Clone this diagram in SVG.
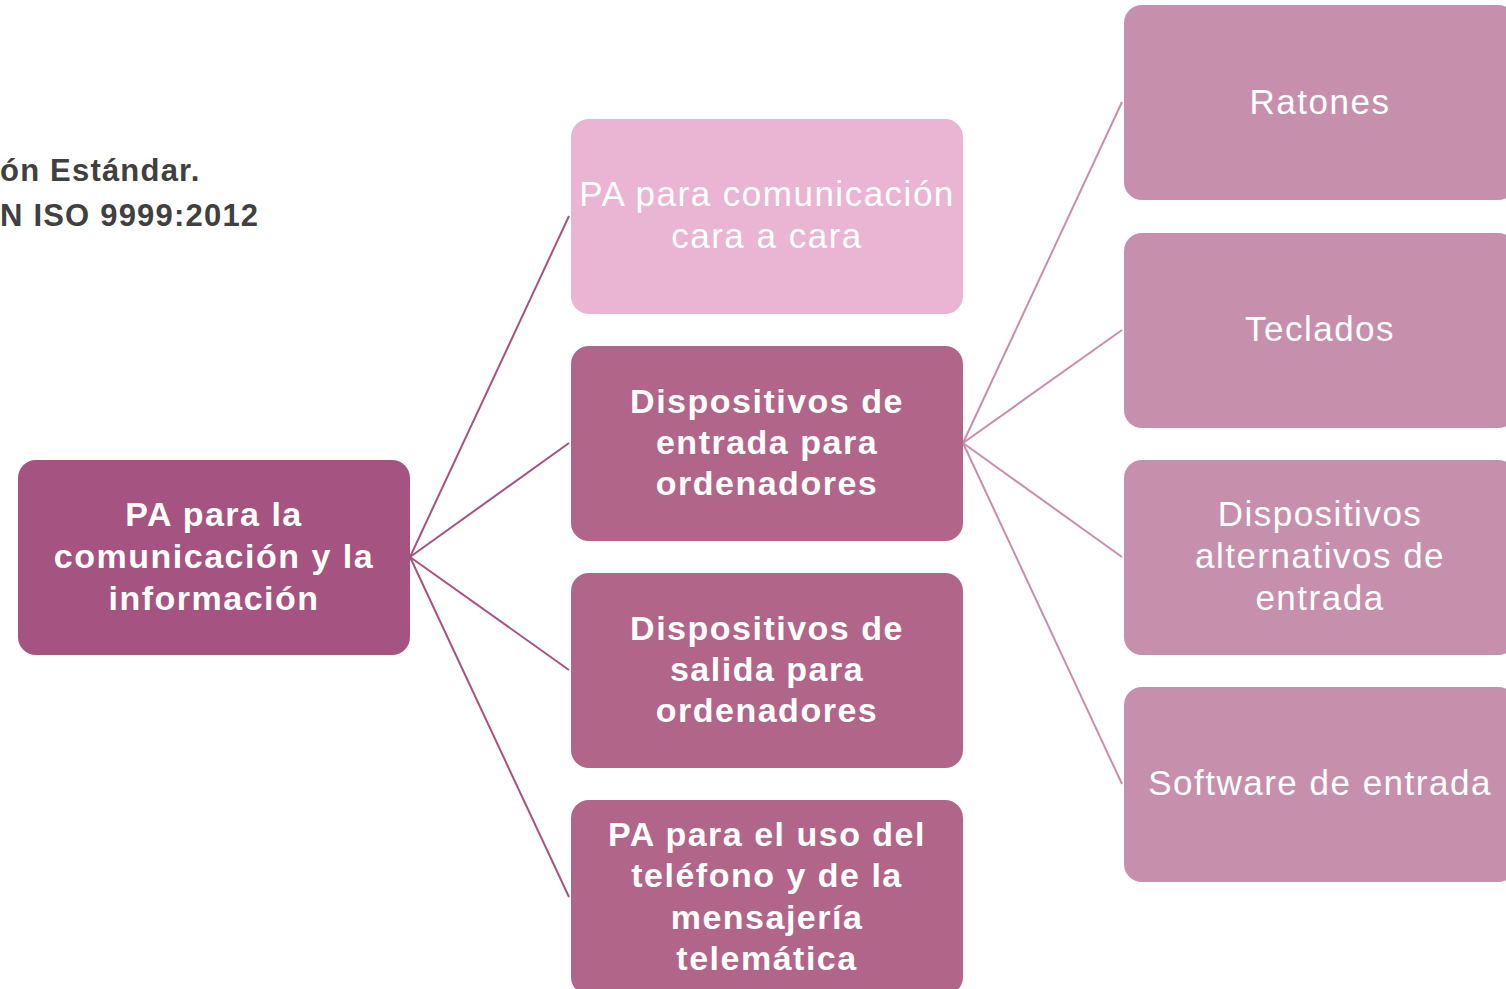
<svg xmlns="http://www.w3.org/2000/svg" width="1506" height="989" viewBox="0 0 1506 989">
<style>
.t{font-family:"Liberation Sans",Arial,sans-serif;fill:#fff;text-anchor:middle;font-size:35px;letter-spacing:1.5px}
.b{font-weight:bold;font-size:34px;letter-spacing:1.5px}
.h{font-family:"Liberation Sans",Arial,sans-serif;font-weight:bold;font-size:31px;fill:#404040;letter-spacing:1.2px}
.c1{stroke:#a55380;stroke-width:2;fill:none}
.c2{stroke:#c690ad;stroke-width:2;fill:none}
</style>
<rect width="1506" height="989" fill="#fff"/>
<g id="header">
<text class="h" x="0" y="181">ón Estándar.</text>
<text class="h" x="0" y="226">N ISO 9999:2012</text>
</g>
<g id="connectors">
<line class="c1" x1="410" y1="557" x2="569" y2="216"/>
<line class="c1" x1="410" y1="557" x2="569" y2="443"/>
<line class="c1" x1="410" y1="557" x2="569" y2="670"/>
<line class="c1" x1="410" y1="557" x2="569" y2="897"/>
<line class="c2" x1="963" y1="443" x2="1122" y2="102"/>
<line class="c2" x1="963" y1="443" x2="1122" y2="330"/>
<line class="c2" x1="963" y1="443" x2="1122" y2="557"/>
<line class="c2" x1="963" y1="443" x2="1122" y2="784"/>
</g>
<g id="root">
<rect x="18" y="460" width="392" height="195" rx="18" fill="#a55380"/>
<text class="t b" x="214" y="526">PA para la</text>
<text class="t b" x="214" y="568">comunicación y la</text>
<text class="t b" x="214" y="610">información</text>
</g>
<g id="n-cara">
<rect x="571" y="119" width="392" height="195" rx="18" fill="#eab5d2"/>
<text class="t" x="767" y="206">PA para comunicación</text>
<text class="t" x="767" y="248">cara a cara</text>
</g>
<g id="n-entrada">
<rect x="571" y="346" width="392" height="195" rx="18" fill="#b06589"/>
<text class="t b" x="767" y="413">Dispositivos de</text>
<text class="t b" x="767" y="454">entrada para</text>
<text class="t b" x="767" y="495">ordenadores</text>
</g>
<g id="n-salida">
<rect x="571" y="573" width="392" height="195" rx="18" fill="#b06589"/>
<text class="t b" x="767" y="640">Dispositivos de</text>
<text class="t b" x="767" y="681">salida para</text>
<text class="t b" x="767" y="722">ordenadores</text>
</g>
<g id="n-telefono">
<rect x="571" y="800" width="392" height="195" rx="18" fill="#b06589"/>
<text class="t b" x="767" y="846">PA para el uso del</text>
<text class="t b" x="767" y="887">teléfono y de la</text>
<text class="t b" x="767" y="929">mensajería</text>
<text class="t b" x="767" y="970">telemática</text>
</g>
<g id="n-ratones">
<rect x="1124" y="5" width="392" height="195" rx="18" fill="#c690ad"/>
<text class="t" x="1320" y="114">Ratones</text>
</g>
<g id="n-teclados">
<rect x="1124" y="233" width="392" height="195" rx="18" fill="#c690ad"/>
<text class="t" x="1320" y="341">Teclados</text>
</g>
<g id="n-alternativos">
<rect x="1124" y="460" width="392" height="195" rx="18" fill="#c690ad"/>
<text class="t" x="1320" y="526">Dispositivos</text>
<text class="t" x="1320" y="568">alternativos de</text>
<text class="t" x="1320" y="610">entrada</text>
</g>
<g id="n-software">
<rect x="1124" y="687" width="392" height="195" rx="18" fill="#c690ad"/>
<text class="t" x="1320" y="795">Software de entrada</text>
</g>
</svg>
